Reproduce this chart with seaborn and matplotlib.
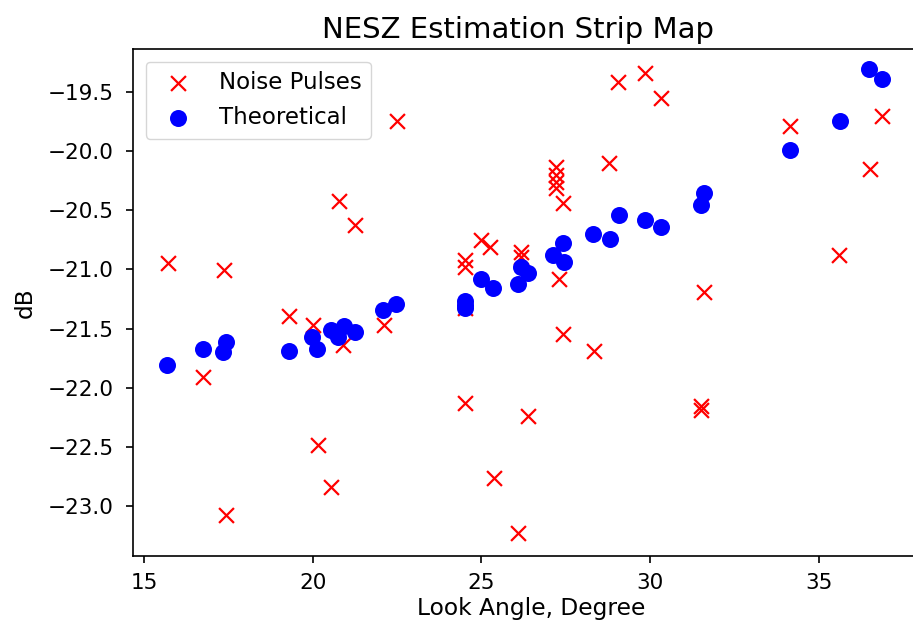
import matplotlib
matplotlib.use("Agg")
import matplotlib.pyplot as plt
import seaborn as sns

# Noise pulse measurements
noise_angle = [15.70, 16.73, 17.37, 17.43, 19.30, 20.00, 20.14, 20.54, 20.77, 20.90,
               21.25, 22.10, 22.49, 24.50, 24.50, 24.50, 24.50, 25.00, 25.26, 25.38,
               26.08, 26.18, 26.18, 26.38, 27.20, 27.20, 27.20, 27.20, 27.30, 27.42,
               27.42, 28.34, 28.78, 29.05, 29.86, 30.31, 31.52, 31.52, 31.59, 34.15,
               35.60, 36.53, 36.88]
noise_db = [-20.95, -21.91, -21.01, -23.07, -21.39, -21.47, -22.48, -22.84, -20.42, -21.64,
            -20.63, -21.47, -19.75, -20.92, -20.98, -21.33, -22.13, -20.75, -20.81, -22.76,
            -23.23, -20.85, -20.90, -22.24, -20.14, -20.20, -20.26, -20.31, -21.08, -20.44,
            -21.55, -21.69, -20.10, -19.42, -19.34, -19.55, -22.15, -22.19, -21.19, -19.79,
            -20.88, -20.15, -19.71]

# Theoretical NESZ
theo_angle = [15.69, 16.73, 17.34, 17.44, 19.30, 19.99, 20.13, 20.55, 20.75, 20.92,
              21.24, 22.08, 22.48, 24.50, 24.50, 24.50, 25.00, 25.34, 26.08, 26.18,
              26.38, 27.12, 27.42, 27.44, 28.30, 28.80, 29.08, 29.84, 30.33, 31.50,
              31.60, 34.15, 35.62, 36.50, 36.88]
theo_db = [-21.81, -21.67, -21.70, -21.61, -21.69, -21.57, -21.67, -21.51, -21.57, -21.48,
           -21.53, -21.34, -21.29, -21.27, -21.30, -21.33, -21.08, -21.16, -21.12, -20.98,
           -21.03, -20.88, -20.78, -20.94, -20.70, -20.74, -20.54, -20.58, -20.64, -20.46,
           -20.36, -19.99, -19.75, -19.31, -19.39]

fig = plt.figure(figsize=(9.13, 6.32), dpi=100)
# axes run past the right edge, as in the cropped original
ax = fig.add_axes([0.1457, 0.1203, 0.8730, 0.8022])

sns.scatterplot(x=noise_angle, y=noise_db, marker='x', color='red', s=115,
                linewidth=1.6, label='Noise Pulses', ax=ax, legend=False)
sns.scatterplot(x=theo_angle, y=theo_db, marker='o', color='blue', s=150,
                linewidth=0, label='Theoretical', ax=ax, legend=False)

ax.set_xlim(14.67, 38.30)
ax.set_ylim(-23.42, -19.14)
ax.set_xticks([15, 20, 25, 30, 35])
ax.set_yticks([-23.0, -22.5, -22.0, -21.5, -21.0, -20.5, -20.0, -19.5])
ax.tick_params(labelsize=15.5, length=5, width=1.2)
ax.tick_params(axis='y', pad=9)
ax.tick_params(axis='x', pad=7)
for s in ax.spines.values():
    s.set_linewidth(1.2)

ax.set_title("NESZ Estimation Strip Map", fontsize=21, pad=8, x=0.483)
ax.set_xlabel("Look Angle, Degree", fontsize=16.8, labelpad=3)
ax.set_ylabel("dB", fontsize=16.8, labelpad=8)
ax.legend(loc='upper left', fontsize=16.5, scatterpoints=1,
          labelspacing=0.55, handletextpad=0.8, borderaxespad=0.55)

fig.savefig("out.png", dpi=100)
